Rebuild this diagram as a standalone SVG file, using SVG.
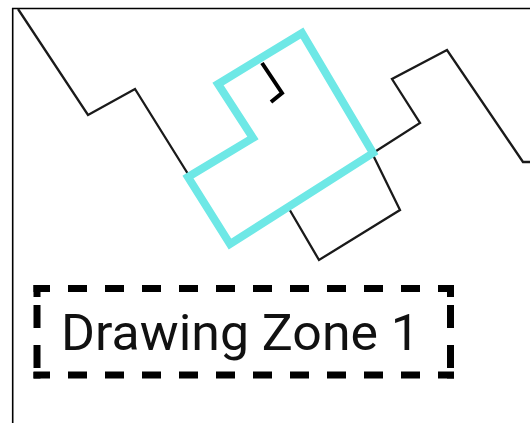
<svg xmlns="http://www.w3.org/2000/svg" width="530" height="423" viewBox="0 0 530 423">
<style>
.wire{fill:none;stroke:#1a1a1a;stroke-width:2.3;stroke-linejoin:miter}
.zone{fill:none;stroke:#6ee8e6;stroke-width:8;stroke-linejoin:miter}
.dash{fill:none;stroke:#000;stroke-width:7}
.h{stroke-dasharray:19 18;stroke-dashoffset:2.5}
.v{stroke-dasharray:12 8 23 17 23 4 10}
.label{font-family:Roboto,"Liberation Sans",sans-serif;font-size:50px;fill:#111}
</style>
<rect width="530" height="423" fill="#fff"/>
<path d="M12.7,423 V8.5 H530" fill="none" stroke="#000" stroke-width="1.6"/>
<g id="connectors">
<polyline class="wire" points="18,9 88,115 135,89 188,174"/>
<polyline class="wire" points="373,153 420,123 392,79 447,50 523,162 530,162"/>
<polyline class="wire" points="288,207 319,260 400,210 373,155"/>
<polyline class="wire" style="stroke-width:4;stroke:#000" points="262,63 282,93 271,102"/>
</g>
<g id="zone">
<polygon class="zone" points="188,177 253,138 218,84 302,33 373,153 230,244"/>
</g>
<g id="label">
<path class="dash h" d="M33.5,288.5 H454"/>
<path class="dash h" d="M33.5,375 H454"/>
<path class="dash v" d="M37,285 V378.5"/>
<path class="dash v" d="M450.5,285 V378.5"/>
<text class="label" x="61" y="350" textLength="359" lengthAdjust="spacingAndGlyphs">Drawing Zone 1</text>
</g>
</svg>
